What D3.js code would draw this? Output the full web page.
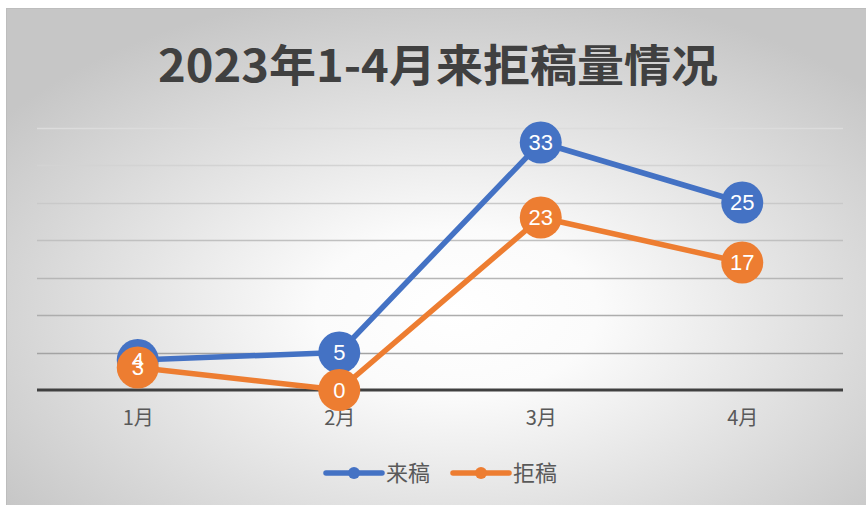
<!DOCTYPE html>
<html>
<head>
<meta charset="utf-8">
<script src="https://cdn.jsdelivr.net/npm/d3@7"></script>
<style>
  body { margin: 0; background: #fff; }
  text { font-family: "Noto Sans CJK SC", "Noto Sans", sans-serif; }
</style>
</head>
<body>
<script>
const months = ['1月', '2月', '3月', '4月'];
const received = [4, 5, 33, 25];
const rejected = [3, 0, 23, 17];
const seriesNames = ['来稿', '拒稿'];
const colors = ['#4472C4', '#ED7D31'];
const gridTicks = [0, 5, 10, 15, 20, 25, 30, 35];

const width = 866;
const height = 505;

let svg = d3.select('body')
    .append('svg')
    .attr('width', width)
    .attr('height', height);

// background gradient
let defs = svg.append('defs');
let grad = defs.append('radialGradient')
    .attr('id', 'bg')
    .attr('cx', '52%').attr('cy', '60%').attr('r', '65%');
grad.append('stop').attr('offset', '0%').attr('stop-color', '#ffffff');
grad.append('stop').attr('offset', '25%').attr('stop-color', '#fbfbfb');
grad.append('stop').attr('offset', '100%').attr('stop-color', '#c6c6c6');

svg.append('rect')
    .attr('x', 6.5).attr('y', 8.5)
    .attr('width', width).attr('height', height)
    .attr('fill', 'url(#bg)')
    .attr('stroke', '#bdbdbd');

// title
svg.append('text')
    .attr('x', 438)
    .attr('y', 82)
    .attr('text-anchor', 'middle')
    .attr('font-size', 44)
    .attr('font-weight', 'bold')
    .attr('fill', '#404040')
    .attr('textLength', 560)
    .attr('lengthAdjust', 'spacingAndGlyphs')
    .text('2023年1-4月来拒稿量情况');

const x = d3.scalePoint()
    .domain(months)
    .range([37, 843])
    .padding(0.5);

const y = d3.scaleLinear()
    .domain([0, 35])
    .range([390, 127.5]);

// gridlines
svg.append('g')
    .selectAll('line')
    .data(gridTicks.slice(1))
    .enter()
    .append('line')
    .attr('x1', 37).attr('x2', 843)
    .attr('y1', d => Math.round(y(d)) + 0.5)
    .attr('y2', d => Math.round(y(d)) + 0.5)
    .attr('stroke', d => d3.interpolateRgb('#9a9a9a', '#dcdcdc')(d / 35))
    .attr('stroke-width', 1.5);

// x axis
let xAxis = svg.append('g')
    .attr('transform', `translate(0,${y(0)})`)
    .call(d3.axisBottom(x).tickSize(0).tickPadding(21));
xAxis.select('.domain')
    .attr('d', 'M37,0H843')
    .attr('stroke', '#404040')
    .attr('stroke-width', 3);
xAxis.selectAll('text')
    .attr('font-size', 20)
    .attr('fill', '#595959')
    .style('font-family', '"Noto Sans CJK SC", sans-serif');

const series = [received, rejected];

const line = d3.line()
    .x((d, i) => x(months[i]))
    .y(d => y(d));

let layers = svg.selectAll('.series')
    .data(series)
    .enter()
    .append('g')
    .attr('class', 'series');

layers.append('path')
    .attr('d', d => line(d))
    .attr('fill', 'none')
    .attr('stroke', (d, i) => colors[i])
    .attr('stroke-width', 5.5)
    .attr('stroke-linejoin', 'round');

layers.each(function(d, si) {
    d3.select(this).selectAll('circle')
        .data(d)
        .enter()
        .append('circle')
        .attr('cx', (v, i) => x(months[i]))
        .attr('cy', v => y(v))
        .attr('r', 21)
        .attr('fill', colors[si]);
});

// data labels on top
series.forEach(function(s) {
    svg.append('g')
        .selectAll('text')
        .data(s)
        .enter()
        .append('text')
        .attr('x', (v, i) => x(months[i]))
        .attr('y', v => y(v))
        .attr('dy', '0.36em')
        .attr('text-anchor', 'middle')
        .attr('font-size', 22)
        .attr('fill', '#fff')
        .style('font-family', '"Liberation Sans", Arial, sans-serif')
        .text(v => v);
});

// legend
const legendX = [326, 453];
let legend = svg.selectAll('.legend')
    .data(seriesNames)
    .enter()
    .append('g')
    .attr('class', 'legend')
    .attr('transform', (d, i) => `translate(${legendX[i]},473)`);

legend.append('line')
    .attr('x1', 0).attr('x2', 56)
    .attr('stroke', (d, i) => colors[i])
    .attr('stroke-width', 5.5)
    .attr('stroke-linecap', 'round');
legend.append('circle')
    .attr('cx', 28).attr('r', 6)
    .attr('fill', (d, i) => colors[i]);
legend.append('text')
    .attr('x', 60)
    .attr('dy', '0.36em')
    .attr('font-size', 22)
    .attr('fill', '#595959')
    .text(d => d);
</script>
</body>
</html>
